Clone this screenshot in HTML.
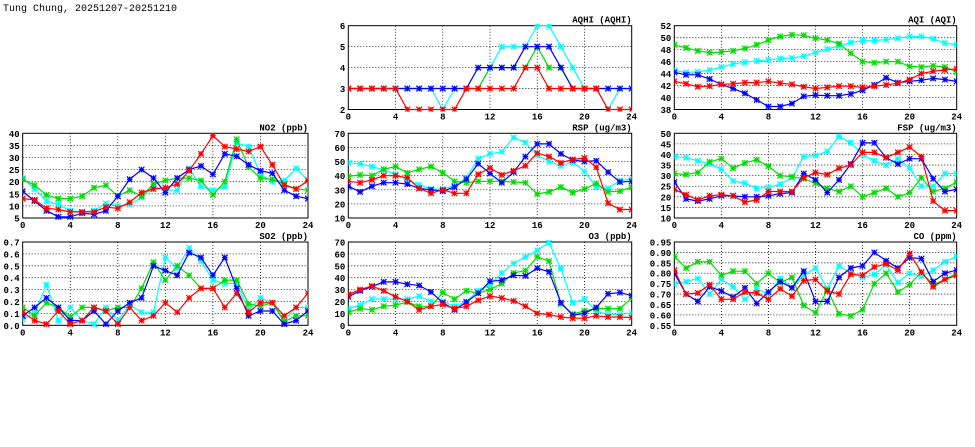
<!DOCTYPE html>
<html><head><meta charset="utf-8">
<style>
html,body{margin:0;padding:0;background:#fff;}
svg{display:block;font-family:"Liberation Mono","DejaVu Sans Mono",monospace;}
</style></head>
<body>
<svg id="chart" width="975" height="447" viewBox="0 0 975 447" xmlns="http://www.w3.org/2000/svg">
<text x="3" y="11" font-size="10">Tung Chung, 20251207-20251210</text>
</svg>
<script>
const hours = [0,1,2,3,4,5,6,7,8,9,10,11,12,13,14,15,16,17,18,19,20,21,22,23,24];
const xTicks = [0,4,8,12,16,20,24];
const seriesColors = ["#00ffff","#00dd00","#0000ff","#ff0000"];

const aqhiCyan = [3,3,3,3,3,3,3,3,2,3,3,3,4,5,5,5,6,6,5,4,3,3,2,3,3];
const aqhiGreen = [3,3,3,3,3,3,3,3,3,3,3,3,4,4,4,4,5,4,4,3,3,3,3,3,3];
const aqhiBlue = [3,3,3,3,3,3,3,3,3,3,3,4,4,4,4,5,5,5,4,3,3,3,3,3,3];
const aqhiRed = [3,3,3,3,3,2,2,2,2,2,3,3,3,3,3,4,4,3,3,3,3,3,2,2,2];
const aqhiTicks = [2,3,4,5,6];

const aqiCyan = [44.5,44.2,44.3,44.6,45.1,45.6,45.9,46.1,46.3,46.5,46.6,46.9,47.5,48.1,48.6,49.2,49.5,49.5,49.7,49.9,50.2,50.2,49.8,49.1,48.8];
const aqiGreen = [48.8,48.3,47.8,47.5,47.6,47.8,48.2,48.8,49.6,50.2,50.5,50.4,49.9,49.6,49.0,47.4,46.0,45.8,46.0,46.0,45.2,45.1,45.3,45.1,44.3];
const aqiBlue = [44.2,43.8,43.8,43.1,42.2,41.5,40.7,39.6,38.5,38.5,39.0,40.2,40.4,40.3,40.3,40.6,41.2,42.1,43.3,42.5,42.7,42.9,43.2,43.0,42.7];
const aqiRed = [42.7,42.3,41.8,41.9,42.2,42.3,42.5,42.5,42.7,42.4,42.2,41.8,41.5,41.7,41.9,41.9,41.7,41.9,42.1,42.4,43.0,44.0,44.4,44.6,44.8];
const aqiTicks = [38,40,42,44,46,48,50,52];

const no2Cyan = [21.5,17,12,10.5,8,7.5,8,11,10,10.5,13.5,18,16.5,16.5,25.5,18,16.5,18,36,34.5,23,20,20.5,25.5,20.5];
const no2Green = [21,18.5,14.5,13,13,14,17.5,18.5,14,16.5,14,19,20.5,21.5,21.5,20.5,14.5,20,37.5,26,21.5,21,19,17,16.5];
const no2Blue = [16,12,8,5.5,5.5,7,6.5,8,14,21,25,21.5,15.5,21.5,25,26.5,23,31.5,30.5,27,24.5,23.5,16.5,14,13];
const no2Red = [13,12.5,9,8.5,7.5,7.5,7.5,9.5,9,11.5,15.5,17,17.5,19,24.5,31.5,39,34.5,33.5,32.5,34.5,27,18.5,17,20.5];
const no2Ticks = [5,10,15,20,25,30,35,40];

const rspCyan = [49,48.5,46.5,44,41,37,33.5,30.5,30.5,33,38.5,52,55.5,57,67,63.5,54.5,50,47,49.5,43,32,31,36.5,37.5];
const rspGreen = [39.5,40.5,40,44.5,46.5,42,44.5,46.5,42,36,35,36,36,36,35.5,35,27,28.5,32,28,30.5,34.5,28.5,29,32];
const rspBlue = [32.5,28.5,32.5,35,35,34,31,30,29,32,37.5,48.5,41.5,35,42.5,53.5,62.5,62.5,55.5,51,50,50.5,42.5,35.5,36];
const rspRed = [36,35,37,40,40,38.5,31,27.5,30,27.5,27.5,41,45.5,40.5,43.5,47,56,53.5,49,51.5,52.5,46,20.5,16,16];
const rspTicks = [10,20,30,40,50,60,70];

const fspCyan = [39,38.5,37,35.5,33,27.5,26.5,24,24.5,26,29,39,39.5,41.5,48.5,45.5,40,37,35,38,33.5,25,25,31,31];
const fspGreen = [31,30.5,31.5,36.5,38,33.5,36,37.5,34.5,30,29.5,28.5,26.5,24,22.5,25,20,22,24,20,22,29,22.5,24,27];
const fspBlue = [27,19,18,19,20.5,20.5,20,20,20.5,21.5,22,31,28,22,28,35.5,45.5,45.5,38.5,35.5,38,38,28.5,22.5,23.5];
const fspRed = [23.5,21,18.5,20.5,21,20.5,17.5,18.5,22.5,22.5,22.5,29,31.5,30.5,33.5,35,41,41,38.5,41,43.5,39,18,13.5,13.5];
const fspTicks = [10,15,20,25,30,35,40,45,50];

const so2Cyan = [0.05,0.10,0.34,0.04,0.15,0.04,0.01,0.15,0.04,0.17,0.11,0.11,0.57,0.48,0.65,0.54,0.38,0.35,0.35,0.13,0.23,0.19,0.04,0.15,0.15];
const so2Green = [0.15,0.08,0.19,0.15,0.07,0.15,0.15,0.12,0.15,0.15,0.31,0.53,0.38,0.50,0.42,0.31,0.31,0.38,0.38,0.18,0.16,0.19,0.03,0.08,0.08];
const so2Blue = [0.08,0.15,0.23,0.15,0.04,0.04,0.12,0.01,0.12,0.19,0.23,0.50,0.46,0.42,0.61,0.57,0.42,0.57,0.31,0.08,0.12,0.12,0.01,0.04,0.12];
const so2Red = [0.11,0.04,0.01,0.12,0.01,0.04,0.15,0.12,0.01,0.15,0.04,0.08,0.19,0.11,0.23,0.31,0.31,0.15,0.27,0.11,0.19,0.19,0.08,0.15,0.27];
const so2Ticks = [0,0.1,0.2,0.3,0.4,0.5,0.6,0.7];

const o3Cyan = [14,17,22,22,22,22,24.5,20,20,16,20,29,34,44,52,57.5,63,69.5,47.5,19,22,12,9,9,10.5];
const o3Green = [11,14,13,16,17,19.5,16,16,27.5,22,29,27,30,35,44,46,57.5,54,18,9.5,12,14,14,14,23];
const o3Blue = [24,29,32.5,36.5,36.5,34.5,33.5,28,19,13,19.5,27,37,38,42,41.5,48,45,19,8.5,10,15,26.5,27.5,25];
const o3Red = [26,30,33,29,24,20,13,16,17.5,14,16,21,24.5,23,20.5,16,10,9,7,6,6,8,7,7,6.5];
const o3Ticks = [0,10,20,30,40,50,60,70];

const coCyan = [0.75,0.76,0.775,0.70,0.77,0.735,0.675,0.725,0.70,0.775,0.73,0.79,0.825,0.725,0.835,0.80,0.78,0.795,0.84,0.755,0.80,0.785,0.815,0.855,0.88];
const coGreen = [0.88,0.825,0.855,0.855,0.79,0.81,0.81,0.75,0.80,0.755,0.78,0.645,0.61,0.72,0.605,0.595,0.625,0.75,0.80,0.71,0.745,0.805,0.745,0.77,0.80];
const coBlue = [0.80,0.70,0.665,0.735,0.715,0.685,0.73,0.655,0.71,0.76,0.73,0.81,0.665,0.665,0.78,0.825,0.835,0.90,0.86,0.825,0.875,0.87,0.76,0.80,0.815];
const coRed = [0.815,0.70,0.705,0.745,0.675,0.675,0.71,0.705,0.675,0.725,0.69,0.765,0.77,0.715,0.70,0.795,0.79,0.83,0.845,0.815,0.895,0.805,0.735,0.77,0.79];
const coTicks = [0.55,0.60,0.65,0.70,0.75,0.80,0.85,0.90,0.95];

const NS = "http://www.w3.org/2000/svg";
const svg = document.getElementById("chart");
const colLeft = [22.7, 348.3, 674.3];
const colRight = [308, 631.7, 956.7];
const rowTop = [25.7, 133.3, 242];
const rowBottom = [109.5, 218, 325.3];

function mk(tag, attrs, parent) {
  const e = document.createElementNS(NS, tag);
  for (const k in attrs) e.setAttribute(k, attrs[k]);
  (parent || svg).appendChild(e);
  return e;
}

function panel(key, title, col, row, ticks, dec, series) {
  const x0 = colLeft[col], x1 = colRight[col], y0 = rowTop[row], y1 = rowBottom[row];
  const ymin = ticks[0], ymax = ticks[ticks.length - 1];
  const sx = v => x0 + (v - 0) / 24 * (x1 - x0);
  const sy = v => y1 - (v - ymin) / (ymax - ymin) * (y1 - y0);
  const g = mk("g", {});
  
  
  // grid
  ticks.forEach((t, i) => {
    if (i > 0 && i < ticks.length - 1) {
      const l = mk("line", {x1: x0, x2: x1, y1: sy(t), y2: sy(t), stroke: "#000", "stroke-width": 0.8, "stroke-dasharray": "1,2"}, g);
      
      
    }
    const tl = mk("text", {x: x0 - 3, y: sy(t) + 3.5, "font-size": 9, "font-weight": "bold", "text-anchor": "end"}, g);
    tl.textContent = t.toFixed(dec);
    
    
  });
  xTicks.forEach((t, i) => {
    if (i > 0 && i < xTicks.length - 1) {
      const l = mk("line", {x1: sx(t), x2: sx(t), y1: y0, y2: y1, stroke: "#000", "stroke-width": 0.8, "stroke-dasharray": "1,2"}, g);
      
      
    }
    const tl = mk("text", {x: sx(t), y: y1 + 10, "font-size": 9, "font-weight": "bold", "text-anchor": "middle"}, g);
    tl.textContent = t;
    
    
  });
  const fr = mk("rect", {x: x0, y: y0, width: x1 - x0, height: y1 - y0, fill: "none", stroke: "#000", "stroke-width": 1}, g);
  
  
  const tt = mk("text", {x: x1, y: y0 - 3, "font-size": 9, "font-weight": "bold", "text-anchor": "end"}, g);
  tt.textContent = title;
  
  
  const clipId = "clip-" + key;
  const cp = mk("clipPath", {id: clipId}, g);
  mk("rect", {x: x0, y: y0 - 2, width: x1 - x0, height: y1 - y0 + 4}, cp);
  const sg = mk("g", {"clip-path": "url(#" + clipId + ")"}, g);
  const names = ["cyan", "green", "blue", "red"];
  series.forEach((vals, si) => {
    const c = seriesColors[si];
    const pts = vals.map((v, i) => sx(hours[i]).toFixed(1) + "," + sy(v).toFixed(1)).join(" ");
    const pl = mk("polyline", {points: pts, fill: "none", stroke: c, "stroke-width": 1.2}, sg);
    
    
    vals.forEach((v, i) => {
      const cx = sx(hours[i]), cy = sy(v), r = 2.8;
      const m = mk("path", {d: `M${cx-r},${cy-r}L${cx+r},${cy+r}M${cx-r},${cy+r}L${cx+r},${cy-r}M${cx-r},${cy}L${cx+r},${cy}M${cx},${cy-r}L${cx},${cy+r}`, stroke: c, "stroke-width": 1.2, fill: "none"}, sg);
      
      
    });
  });
}

panel("aqhi", "AQHI (AQHI)", 1, 0, aqhiTicks, 0, [aqhiCyan, aqhiGreen, aqhiBlue, aqhiRed]);
panel("aqi", "AQI (AQI)", 2, 0, aqiTicks, 0, [aqiCyan, aqiGreen, aqiBlue, aqiRed]);
panel("no2", "NO2 (ppb)", 0, 1, no2Ticks, 0, [no2Cyan, no2Green, no2Blue, no2Red]);
panel("rsp", "RSP (ug/m3)", 1, 1, rspTicks, 0, [rspCyan, rspGreen, rspBlue, rspRed]);
panel("fsp", "FSP (ug/m3)", 2, 1, fspTicks, 0, [fspCyan, fspGreen, fspBlue, fspRed]);
panel("so2", "SO2 (ppb)", 0, 2, so2Ticks, 1, [so2Cyan, so2Green, so2Blue, so2Red]);
panel("o3", "O3 (ppb)", 1, 2, o3Ticks, 0, [o3Cyan, o3Green, o3Blue, o3Red]);
panel("co", "CO (ppm)", 2, 2, coTicks, 2, [coCyan, coGreen, coBlue, coRed]);
</script>
</body></html>
